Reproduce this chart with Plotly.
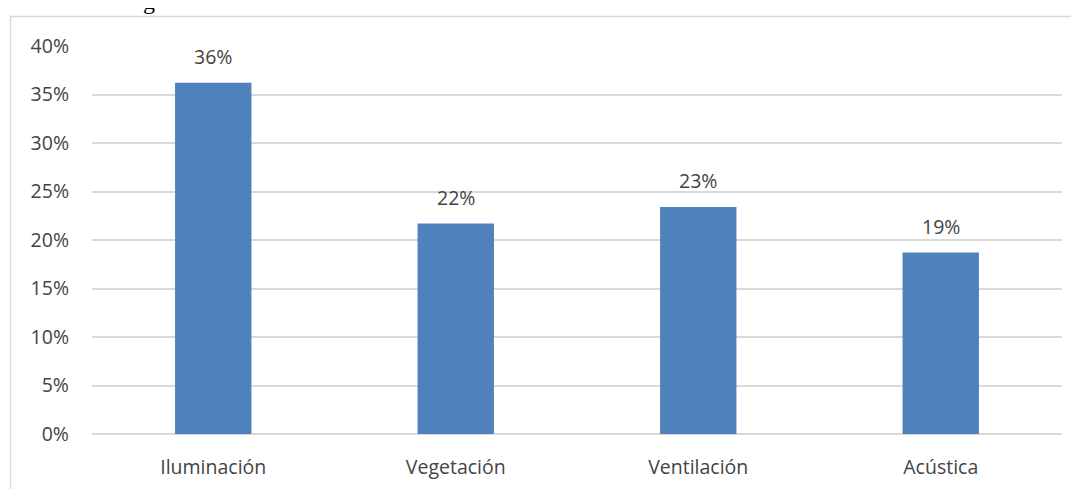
import plotly.graph_objects as go

categories = ["Iluminación", "Vegetación", "Ventilación", "Acústica"]
values = [36.2, 21.7, 23.4, 18.7]
tick_vals = [0, 5, 10, 15, 20, 25, 30, 35, 40]
tick_text = [f"{v}%" for v in tick_vals]

OFF = 8  # page body margin
W, H = 1079, 489
L, R, T, B = 92 - OFF, 17 + OFF, 46 - OFF, 55 + OFF
pw, ph = W - L - R, H - T - B

def px_x(p):
    return (p - OFF - L) / pw

def px_y(p):
    return (H - B - (p - OFF)) / ph

text_color = "#444444"
font = "Open Sans"
fs = 19.5

fig = go.Figure()
fig.add_trace(go.Bar(
    x=categories, y=values,
    marker=dict(color="#4F81BD", line=dict(width=0)),
    width=0.315,
    hoverinfo="skip",
))

for c, v in zip(categories, values):
    fig.add_annotation(x=c, y=v, text=f"{v:.0f}%", showarrow=False,
                       yanchor="bottom", yshift=11,
                       font=dict(family=font, size=fs, color=text_color))

# outer chart frame
fig.add_shape(type="rect", xref="paper", yref="paper",
              x0=px_x(10.5), x1=px_x(1095), y0=px_y(510), y1=px_y(16.5),
              line=dict(color="#D9D9D9", width=1.5), layer="below")

# fragment of caption above the chart
fig.add_annotation(xref="paper", yref="paper", x=px_x(141), y=px_y(1),
                   text="g", showarrow=False, yanchor="middle",
                   font=dict(family="Liberation Serif", size=24, color="#000000"))

fig.update_layout(
    width=W, height=H,
    margin=dict(l=L, r=R, t=T, b=B),
    paper_bgcolor="white", plot_bgcolor="white",
    showlegend=False,
    bargap=0.685,
    font=dict(family=font, size=fs, color=text_color),
    xaxis=dict(showgrid=False, showline=False, ticks="", zeroline=False,
               ticklabelstandoff=19,
               tickfont=dict(family=font, size=fs, color=text_color)),
    yaxis=dict(range=[0, 40], tickvals=tick_vals, ticktext=tick_text,
               showgrid=True, gridcolor="#D9D9D9", gridwidth=1.5,
               zeroline=True, zerolinecolor="#D9D9D9", zerolinewidth=1.5,
               showline=False, ticks="", ticklabelstandoff=22,
               tickfont=dict(family=font, size=fs, color=text_color)),
)

fig.write_html("out.html")
